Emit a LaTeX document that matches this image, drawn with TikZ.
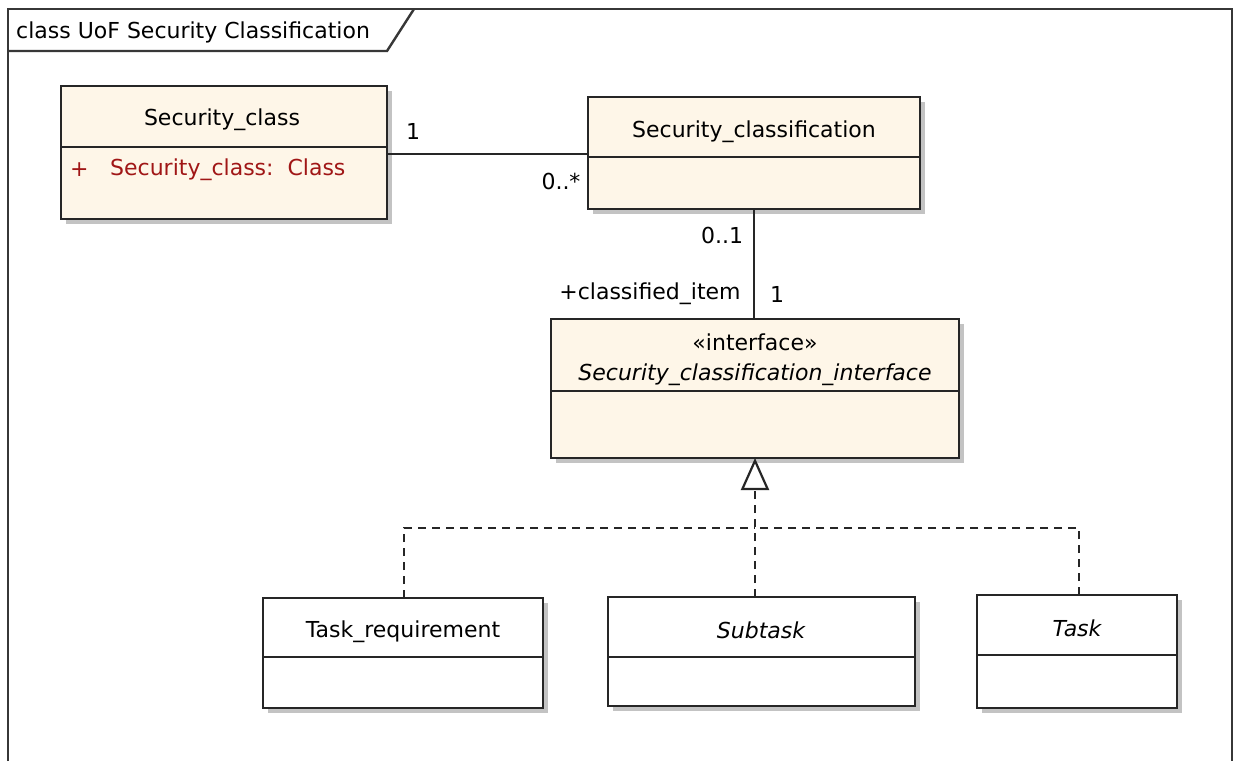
\documentclass[tikz,border=0pt]{standalone}
\usepackage{fontspec}
\setmainfont{DejaVu Sans}
\usetikzlibrary{arrows.meta,calc}
\definecolor{cream}{RGB}{254,246,232}
\definecolor{shadowgray}{RGB}{195,195,195}
\definecolor{attrred}{RGB}{160,22,22}
\definecolor{framegray}{RGB}{55,55,55}
\tikzset{
  classbox/.style={draw=black!85, line width=2.6pt, inner sep=0pt, outer sep=0pt},
  shadowbox/.style={fill=shadowgray, draw=none},
  divider/.style={draw=black!85, line width=2.4pt},
  assoc/.style={draw=black!85, line width=2.4pt},
  realize/.style={draw=black!85, line width=2.5pt, dash pattern=on 8pt off 6pt},
  lbl/.style={font=\fontsize{22}{26}\selectfont, inner sep=0pt},
  ilbl/.style={font=\fontsize{22}{26}\selectfont\itshape, inner sep=0pt},
}
% name, x1, y1, x2, y2, ydiv, fill
\newcommand{\umlbox}[7]{%
  \fill[shadowbox] (#2+5,#3+5) rectangle (#4+5,#5+5);
  \node[classbox, fill=#7, minimum width=#4-#2, minimum height=#5-#3] (#1) at ({(#2+#4)/2},{(#3+#5)/2}) {};
  \draw[divider] (#2,#6) -- (#4,#6);
}
\begin{document}
\begin{tikzpicture}[x=1pt,y=-1pt]
\useasboundingbox (0,0) rectangle (1235,761);
\fill[white] (0,0) rectangle (1235,761);
% frame
\draw[framegray, line width=2.4pt] (8,761) -- (8,9) -- (1232,9) -- (1232,761);
\draw[framegray, line width=2.4pt] (8,51) -- (387,51) -- (414,9);
\node[lbl, anchor=west] (frametitle) at (16,32) {class UoF Security Classification};

% classes
\umlbox{scl}{61}{86}{387}{219}{147}{cream}
\node[lbl] (scltitle) at (222,120) {Security\_class};
\node[lbl, text=attrred, anchor=west] (sclplus) at (70,170) {+};
\node[lbl, text=attrred, anchor=west] (sclattr) at (110,170) {Security\_class:\ \ Class};

\umlbox{scf}{588}{97}{920}{209}{157}{cream}
\node[lbl] (scftitle) at (754,132) {Security\_classification};

\umlbox{iface}{551}{319}{959}{458}{391}{cream}
\node[lbl] (ifster) at (755,342) {«interface»};
\node[ilbl] (ifname) at (755,375) {Security\_classification\_interface};

\umlbox{tr}{263}{598}{543}{708}{657}{white}
\node[lbl] (trtitle) at (403,632) {Task\_requirement};

\umlbox{st}{608}{597}{915}{706}{657}{white}
\node[ilbl] (sttitle) at (761,630) {Subtask};

\umlbox{tk}{977}{595}{1177}{708}{655}{white}
\node[ilbl] (tktitle) at (1077,628) {Task};

% association Security_class -- Security_classification
\draw[assoc] (scl.east |- 0,154) -- (scf.west |- 0,154);
\node[lbl] (m1) at (413,131) {1};
\node[lbl] (m2) at (561,181) {0..*};

% association Security_classification -- interface
\draw[assoc] (scf.south) -- (scf.south |- iface.north);
\node[lbl] (m3) at (722,235) {0..1};
\node[lbl] (role) at (650,294) {+classified\_item};
\node[lbl] (m4) at (777,294) {1};

% realizations
\coordinate (j) at (iface.south |- 0,528);
\draw[realize] (tr.north -| 404,0) |- (j);
\draw[realize] (tk.north -| 1079,0) |- (j);
\draw[realize, -{Triangle[open, length=32pt, width=28pt, line width=2.2pt, fill=white]}] (iface.south |- st.north) -- (iface.south);
\end{tikzpicture}
\end{document}
